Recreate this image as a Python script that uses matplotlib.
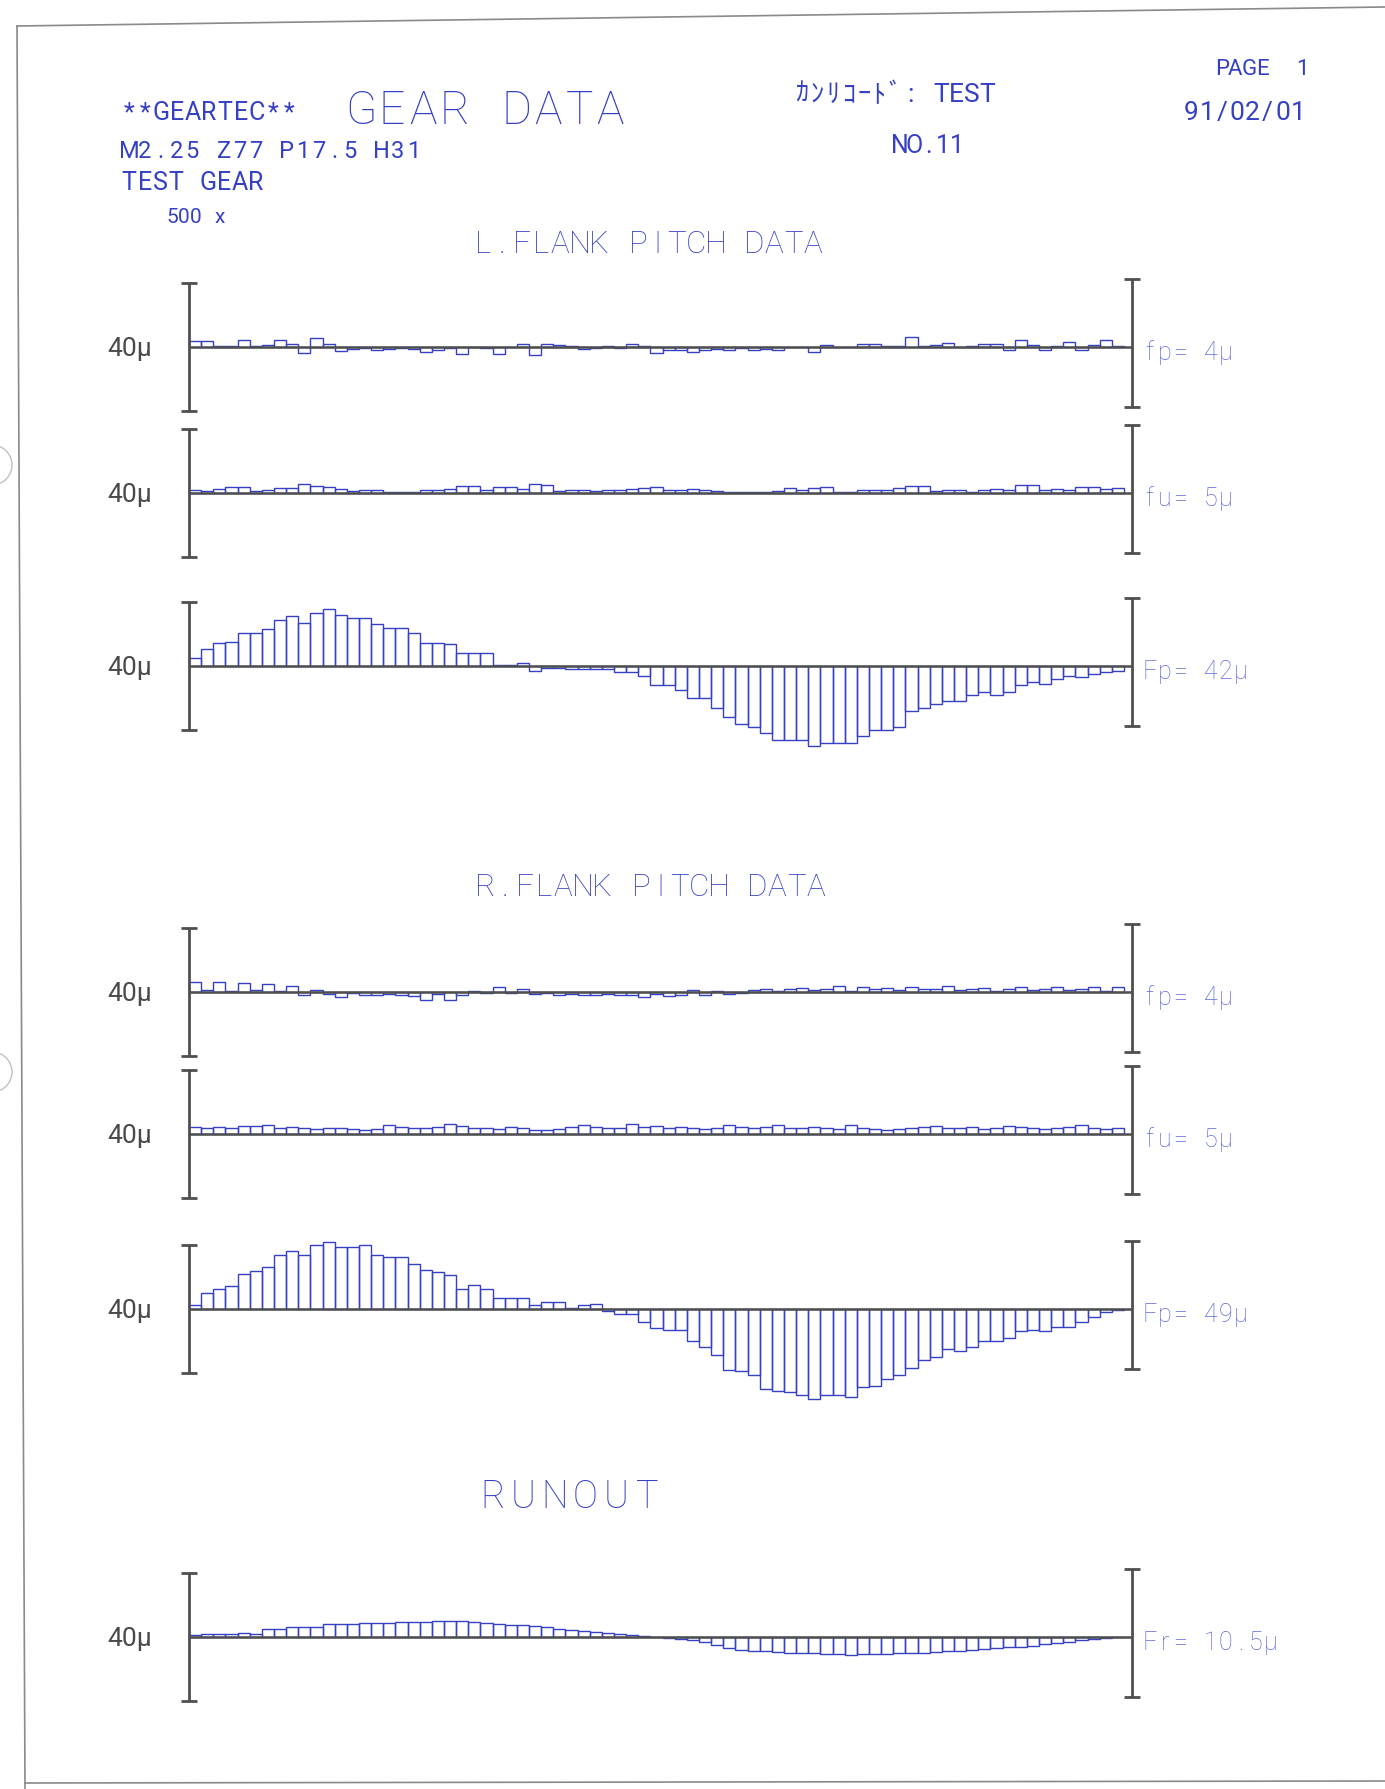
import matplotlib
matplotlib.use('Agg')
import matplotlib.pyplot as plt
from matplotlib.lines import Line2D
from matplotlib.patches import Arc

W, H, DPI = 1385, 1789, 100

# ---------------- data (micrometres, one value per tooth, Z = 77) ----------------
L_fp = [2.0, 1.8, 0.3, 0.2, 2.2, 0.2, 0.6, 2.2, 0.8, -2.0,
        2.8, 1.0, -1.2, -0.6, -0.3, -1.0, -0.7, -0.2, -0.6, -1.5,
        -0.8, -0.3, -2.2, 0.0, -0.2, -2.2, 0.0, 1.0, -2.5, 1.0,
        0.6, 0.3, -0.5, -0.3, 0.2, -0.4, 1.0, 0.3, -2.0, -0.8,
        -1.0, -1.5, -1.0, -0.5, -0.8, -0.3, -0.8, -0.5, -0.8, 0.0,
        0.0, -1.5, 0.5, 0.0, 0.0, 0.8, 0.8, 0.4, 0.2, 3.0,
        0.4, 0.5, 1.2, 0.0, 0.2, 1.0, 1.0, -0.8, 2.2, 0.5,
        -0.8, 0.3, 1.5, -0.8, 0.5, 2.2, 0.3]
L_fu = [1.0, 0.5, 1.2, 2.0, 2.0, 0.5, 1.0, 1.5, 1.5, 2.8,
        2.2, 1.8, 1.2, 0.5, 1.0, 0.8, 0.4, 0.4, 0.4, 0.8,
        1.0, 1.2, 2.2, 2.2, 0.8, 2.0, 2.0, 1.2, 2.8, 2.5,
        0.5, 1.0, 1.0, 0.5, 1.0, 1.0, 1.2, 1.5, 2.0, 0.8,
        0.8, 1.2, 0.8, 0.5, 0.3, 0.3, 0.3, 0.3, 0.5, 1.5,
        1.0, 1.5, 1.8, 0.3, 0.2, 0.8, 1.0, 1.0, 1.5, 2.2,
        2.2, 0.5, 0.8, 0.8, 0.3, 0.8, 1.2, 1.0, 2.5, 2.5,
        1.0, 1.2, 1.0, 2.0, 2.0, 1.2, 1.5]
L_Fp = [2.4, 5.2, 7.3, 7.4, 10.4, 10.4, 11.5, 14.4, 15.6, 13.5,
        16.7, 17.7, 16.0, 14.9, 14.9, 13.0, 11.8, 11.8, 10.4, 7.1,
        7.1, 6.9, 4.0, 4.0, 4.0, 0.3, 0.2, 1.0, -1.5, -0.5,
        -0.5, -0.8, -0.8, -1.0, -1.0, -2.0, -2.0, -3.0, -6.0, -6.0,
        -7.5, -10.0, -10.0, -13.0, -16.0, -18.0, -19.0, -21.0, -23.0, -23.0,
        -23.0, -25.0, -24.0, -24.0, -24.0, -22.0, -20.0, -20.0, -19.0, -14.0,
        -13.0, -12.0, -11.0, -11.0, -9.0, -8.0, -9.0, -8.0, -6.0, -5.0,
        -5.5, -4.0, -3.0, -3.5, -2.5, -2.0, -1.5]
R_fp = [3.0, 0.5, 3.0, 0.3, 2.8, 0.5, 2.5, 0.3, 2.0, -0.8,
        0.5, -0.5, -1.5, -0.3, -1.0, -0.8, -0.5, -1.0, -1.2, -2.5,
        -0.5, -2.5, -1.0, 0.2, -0.3, 1.5, -0.3, 0.8, -0.5, -0.3,
        -0.8, -0.5, -1.0, -0.8, -0.5, -0.8, -1.0, -1.5, -0.5, -1.2,
        -0.8, 0.5, -1.0, 0.3, -0.5, -0.2, 0.5, 1.0, 0.3, 0.8,
        1.2, 0.5, 1.0, 2.0, 0.3, 1.5, 1.0, 1.2, 0.5, 1.5,
        0.8, 1.0, 2.0, 0.5, 1.0, 1.2, 0.3, 1.0, 1.5, 0.5,
        0.8, 1.5, 0.5, 1.0, 1.5, 0.3, 1.5]
R_fu = [2.2, 1.8, 2.2, 2.0, 2.5, 2.5, 2.8, 2.0, 2.2, 1.8,
        1.5, 2.0, 1.8, 1.5, 1.2, 1.5, 2.8, 2.2, 2.0, 1.8,
        2.2, 3.0, 2.5, 2.0, 1.8, 1.5, 2.2, 1.8, 1.2, 1.2,
        1.5, 2.2, 2.8, 2.2, 2.0, 1.8, 3.0, 2.2, 2.5, 2.0,
        2.2, 1.8, 1.5, 2.0, 2.8, 2.2, 2.0, 2.2, 2.8, 1.8,
        2.0, 2.2, 1.8, 1.5, 2.8, 2.0, 1.5, 1.2, 1.5, 1.8,
        2.2, 2.5, 2.0, 1.8, 2.2, 1.5, 2.0, 2.5, 2.2, 1.8,
        1.5, 2.0, 2.2, 2.8, 2.0, 1.5, 1.8]
R_Fp = [1.2, 5.1, 6.2, 7.2, 11.0, 12.0, 13.1, 17.0, 18.0, 17.0,
        20.1, 20.8, 19.5, 19.5, 20.0, 17.0, 16.4, 16.2, 14.1, 12.3,
        11.5, 10.5, 6.4, 7.4, 6.4, 3.5, 3.5, 3.3, 1.2, 2.3,
        2.3, 0.2, 1.2, 1.5, -0.5, -1.5, -1.5, -4.0, -5.8, -6.5,
        -6.5, -10.0, -12.0, -14.5, -19.0, -19.5, -20.5, -25.0, -25.5, -26.0,
        -27.0, -28.0, -27.0, -27.0, -27.5, -24.5, -24.0, -22.0, -20.5, -18.5,
        -16.0, -15.0, -12.5, -13.0, -12.0, -10.0, -10.0, -9.0, -7.0, -6.5,
        -7.0, -5.5, -5.5, -4.0, -2.5, -0.8, -0.3]
RUNOUT = [0.5, 0.8, 1.0, 1.0, 1.2, 1.0, 2.5, 2.5, 3.0, 3.0,
          3.0, 4.0, 4.2, 4.2, 4.3, 4.4, 4.5, 4.6, 4.7, 4.8,
          4.9, 5.0, 4.9, 4.7, 4.5, 4.2, 3.9, 3.6, 3.3, 3.0,
          2.6, 2.3, 2.0, 1.6, 1.2, 0.8, 0.5, 0.3, 0.0, -0.2,
          -0.5, -1.0, -1.5, -2.5, -3.5, -4.0, -4.3, -4.5, -4.7, -4.9,
          -5.0, -5.1, -5.2, -5.3, -5.5, -5.4, -5.3, -5.2, -5.1, -5.0,
          -4.9, -4.7, -4.5, -4.3, -4.0, -3.8, -3.5, -3.2, -3.0, -2.8,
          -2.2, -2.0, -1.5, -1.0, -0.6, -0.3, 0.0]

SCALE_LABEL = "40μ"
RESULT_LABELS = ["fp= 4μ", "fu= 5μ", "Fp= 42μ", "fp= 4μ", "fu= 5μ", "Fp= 49μ", "Fr= 10.5μ"]

# ---------------- style ----------------
INK = '#3540c4'
FAINT = '#5f69d6'
AXC = '#4f4f4f'
FONT = ['Roboto', 'Noto Sans CJK JP', 'DejaVu Sans']

fig = plt.figure(figsize=(W / DPI, H / DPI), dpi=DPI)
fig.patch.set_facecolor('white')


def fx(x):
    return x / W


def fy(y):
    return 1 - y / H


def cells(text, x0, base, pitch, fs, color=INK, weight='normal', family=FONT):
    for i, ch in enumerate(text):
        if ch == ' ':
            continue
        fig.text(fx(x0 + (i + 0.5) * pitch), fy(base), ch, ha='center', va='baseline',
                 fontsize=fs, color=color, family=family, fontweight=weight)


# page edges of the scanned sheet
for (x1, y1, x2, y2) in [(17, 26, 1385, 7), (17, 26, 25, 1789), (25, 1783, 1385, 1781)]:
    fig.add_artist(Line2D([fx(x1), fx(x2)], [fy(y1), fy(y2)], transform=fig.transFigure,
                          color='#8a8a8a', lw=1.2))
for yc in (465, 1072):
    fig.add_artist(Arc((fx(-8), fy(yc)), 40 / W, 40 / H, theta1=-90, theta2=90,
                       transform=fig.transFigure, color='#c0c0c0', lw=1.0))

# ---------------- header text ----------------
cells("**GEARTEC**", 121, 120, 16.0, 18)
cells("GEAR DATA", 345, 124, 31.2, 33, weight='light')
cells("M2.25 Z77 P17.5 H31", 121, 158, 15.8, 17)
cells("TEST GEAR", 121, 190, 15.8, 18)
cells("500 x", 166, 223, 12.0, 15)
cells("ｶﾝﾘｺｰﾄﾞ: TEST", 794, 102, 15.5, 19)
cells("NO.11", 893, 153, 14.2, 18)
cells("PAGE  1", 1215, 75, 13.5, 16)
cells("91/02/01", 1184, 120, 15.2, 19)
cells("L.FLANK PITCH DATA", 473, 253, 19.4, 22.5, weight='light')
cells("R.FLANK PITCH DATA", 476, 896, 19.4, 22.5, weight='light')
cells("RUNOUT", 477, 1508, 31.0, 27, weight='light')

# ---------------- panels ----------------
XL, XR_BAR, XLAST = 189, 1132, 1124      # pixel: left bar, right bar, end of last tooth
NT = len(L_Fp)
PX = (XLAST - XL) / NT                    # pixels per tooth
PXU = 3.2                                 # pixels per micrometre
AL, AR = 150, 1175
HALF = 110

panels = [(347, L_fp), (493, L_fu), (666, L_Fp),
          (992, R_fp), (1134, R_fu), (1309, R_Fp), (1637, RUNOUT)]

for (base, vals), rlabel in zip(panels, RESULT_LABELS):
    ax = fig.add_axes([fx(AL), fy(base + HALF), (AR - AL) / W, 2 * HALF / H])
    ax.set_xlim((AL - XL) / PX, (AR - XL) / PX)
    ax.set_ylim(-HALF / PXU, HALF / PXU)
    ax.axis('off')
    ax.bar(range(len(vals)), vals, width=1.0, align='edge', fill=False,
           edgecolor=INK, linewidth=1.0)
    xr = (XR_BAR - XL) / PX
    ax.hlines(0, 0, xr, color=AXC, lw=1.8)
    for xb, off in ((0, 0.0), (xr, 1.4)):
        ax.vlines(xb, -20 + off, 20 + off, color=AXC, lw=2.0)
        ax.hlines([-20 + off, 20 + off], xb - 0.65, xb + 0.65, color=AXC, lw=2.0)
    fig.text(fx(107), fy(base + 9), SCALE_LABEL, ha='left', va='baseline',
             fontsize=19, color='#4a4a4a', family=['Roboto', 'DejaVu Sans'],
             fontweight='normal')
    cells(rlabel, 1142, base + 13, 15.2, 18, color=FAINT, weight='light')

fig.savefig('out.png', dpi=DPI, facecolor='white')
